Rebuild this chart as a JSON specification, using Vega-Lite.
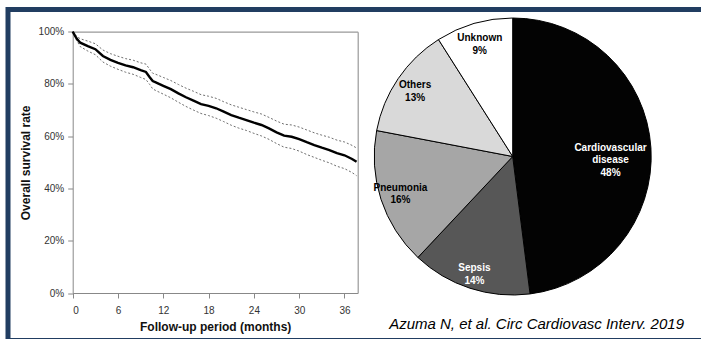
{
  "$schema": "https://vega.github.io/schema/vega-lite/v6.json",
  "width": 697,
  "height": 331,
  "autosize": {"type": "none"},
  "padding": {"left": 8, "top": 9.5, "right": 0, "bottom": 0},
  "background": "white",
  "config": {
    "view": {"stroke": "#213d61", "strokeWidth": 5},
    "font": "Liberation Sans"
  },
  "title": {
    "text": "Azuma N, et al. Circ Cardiovasc Interv. 2019",
    "orient": "bottom",
    "anchor": "end",
    "frame": "group",
    "offset": -23.5,
    "dx": -21,
    "font": "Liberation Sans",
    "fontStyle": "italic",
    "fontWeight": "normal",
    "fontSize": 15,
    "color": "#000000"
  },
  "datasets": {
    "surv": [
      {"month": 0, "s": 100, "lo": 100, "hi": 100},
      {"month": 0.5, "s": 97.5, "lo": 96.8, "hi": 98.3},
      {"month": 1, "s": 95.8, "lo": 94.3, "hi": 97.3},
      {"month": 2, "s": 94.5, "lo": 92.6, "hi": 96.4},
      {"month": 3, "s": 93.3, "lo": 91.2, "hi": 95.4},
      {"month": 4, "s": 90.7, "lo": 88.4, "hi": 93.0},
      {"month": 5, "s": 89.2, "lo": 86.8, "hi": 91.6},
      {"month": 6, "s": 88.1, "lo": 85.6, "hi": 90.6},
      {"month": 7, "s": 87.1, "lo": 84.5, "hi": 89.7},
      {"month": 8, "s": 86.4, "lo": 83.7, "hi": 89.1},
      {"month": 9, "s": 85.3, "lo": 82.5, "hi": 88.1},
      {"month": 9.7, "s": 84.6, "lo": 81.7, "hi": 87.6},
      {"month": 10.2, "s": 82.6, "lo": 79.8, "hi": 85.6},
      {"month": 10.6, "s": 81.1, "lo": 78.1, "hi": 84.1},
      {"month": 11, "s": 80.6, "lo": 77.5, "hi": 83.7},
      {"month": 12, "s": 79.3, "lo": 76.1, "hi": 82.5},
      {"month": 13, "s": 78.0, "lo": 74.7, "hi": 81.3},
      {"month": 14, "s": 76.4, "lo": 73.0, "hi": 79.8},
      {"month": 15, "s": 74.9, "lo": 71.4, "hi": 78.4},
      {"month": 16, "s": 73.6, "lo": 70.0, "hi": 77.2},
      {"month": 17, "s": 72.3, "lo": 68.7, "hi": 75.9},
      {"month": 18, "s": 71.6, "lo": 67.9, "hi": 75.3},
      {"month": 19, "s": 70.7, "lo": 66.9, "hi": 74.5},
      {"month": 20, "s": 69.4, "lo": 65.6, "hi": 73.2},
      {"month": 21, "s": 68.1, "lo": 64.2, "hi": 72.0},
      {"month": 22, "s": 67.1, "lo": 63.1, "hi": 71.1},
      {"month": 23, "s": 66.2, "lo": 62.2, "hi": 70.2},
      {"month": 24, "s": 65.2, "lo": 61.1, "hi": 69.3},
      {"month": 25, "s": 64.3, "lo": 60.1, "hi": 68.5},
      {"month": 26, "s": 63.0, "lo": 58.8, "hi": 67.2},
      {"month": 27, "s": 61.5, "lo": 57.2, "hi": 65.8},
      {"month": 28, "s": 60.2, "lo": 55.8, "hi": 64.6},
      {"month": 29, "s": 59.8, "lo": 55.3, "hi": 64.3},
      {"month": 30, "s": 58.9, "lo": 54.3, "hi": 63.5},
      {"month": 31, "s": 57.7, "lo": 53.0, "hi": 62.4},
      {"month": 32, "s": 56.6, "lo": 51.9, "hi": 61.3},
      {"month": 33, "s": 55.6, "lo": 50.8, "hi": 60.4},
      {"month": 34, "s": 54.7, "lo": 49.8, "hi": 59.6},
      {"month": 35, "s": 53.5, "lo": 48.5, "hi": 58.5},
      {"month": 36, "s": 52.7, "lo": 47.6, "hi": 57.8},
      {"month": 37, "s": 51.3, "lo": 46.1, "hi": 56.5},
      {"month": 37.6, "s": 50.2, "lo": 44.9, "hi": 55.5}
    ],
    "causes": [
      {"cause": "Cardiovascular disease", "pct": 48, "rank": 1},
      {"cause": "Sepsis", "pct": 14, "rank": 2},
      {"cause": "Pneumonia", "pct": 16, "rank": 3},
      {"cause": "Others", "pct": 13, "rank": 4},
      {"cause": "Unknown", "pct": 9, "rank": 5}
    ]
  },
  "resolve": {"axis": {"x": "independent", "y": "independent"}},
  "layer": [
    {
      "data": {"name": "surv"},
      "mark": {"type": "line", "color": "#6e6e6e", "strokeWidth": 1, "strokeDash": [2, 2]},
      "encoding": {
        "x": {
          "field": "month", "type": "quantitative",
          "scale": {"domain": [0, 37.75], "range": [64.7, 349.7], "nice": false, "zero": false},
          "axis": {
            "orient": "bottom", "offset": -47.5, "values": [0, 6, 12, 18, 24, 30, 36],
            "grid": false, "tickSize": 5, "labelPadding": 7,
            "domainColor": "#888888", "tickColor": "#888888", "labelColor": "#333333",
            "labelFont": "Liberation Sans", "labelFontSize": 10,
            "title": "Follow-up period (months)", "titleFont": "Liberation Sans",
            "titleFontSize": 12, "titleFontWeight": "bold", "titleColor": "#111111", "titlePadding": 6
          }
        },
        "y": {
          "field": "hi", "type": "quantitative",
          "scale": {"domain": [0, 100], "range": [283.5, 22.2], "nice": false, "zero": false},
          "axis": {
            "orient": "left", "offset": -64.7, "values": [0, 20, 40, 60, 80, 100],
            "labelExpr": "datum.value + '%'",
            "grid": false, "tickSize": 5, "labelPadding": 4,
            "domainColor": "#888888", "tickColor": "#888888", "labelColor": "#333333",
            "labelFont": "Liberation Sans", "labelFontSize": 10,
            "title": "Overall survival rate", "titleFont": "Liberation Sans",
            "titleFontSize": 12, "titleFontWeight": "bold", "titleColor": "#111111", "titlePadding": 6
          }
        }
      }
    },
    {
      "data": {"name": "surv"},
      "mark": {"type": "line", "color": "#6e6e6e", "strokeWidth": 1, "strokeDash": [2, 2]},
      "encoding": {
        "x": {
          "field": "month", "type": "quantitative",
          "scale": {"domain": [0, 37.75], "range": [64.7, 349.7], "nice": false, "zero": false},
          "axis": {"orient": "top", "offset": -22.2, "labels": false, "ticks": false, "grid": false, "title": null, "domainColor": "#999999", "domainWidth": 1.2}
        },
        "y": {
          "field": "lo", "type": "quantitative",
          "scale": {"domain": [0, 100], "range": [283.5, 22.2], "nice": false, "zero": false},
          "axis": {"orient": "right", "offset": -347.3, "labels": false, "ticks": false, "grid": false, "title": null, "domainColor": "#999999", "domainWidth": 1.2}
        }
      }
    },
    {
      "data": {"name": "surv"},
      "mark": {"type": "line", "color": "#000000", "strokeWidth": 2.4},
      "encoding": {
        "x": {"field": "month", "type": "quantitative", "axis": null,
          "scale": {"domain": [0, 37.75], "range": [64.7, 349.7], "nice": false, "zero": false}},
        "y": {"field": "s", "type": "quantitative", "axis": null,
          "scale": {"domain": [0, 100], "range": [283.5, 22.2], "nice": false, "zero": false}}
      }
    },
    {
      "data": {"name": "causes"},
      "mark": {"type": "arc", "x": 504.7, "y": 147, "outerRadius": 138.5, "stroke": "#000000", "strokeWidth": 1},
      "encoding": {
        "theta": {"field": "pct", "type": "quantitative", "stack": true},
        "order": {"field": "rank", "type": "quantitative"},
        "color": {
          "field": "cause", "type": "nominal", "legend": null,
          "scale": {
            "domain": ["Cardiovascular disease", "Sepsis", "Pneumonia", "Others", "Unknown"],
            "range": ["#030303", "#575757", "#a6a6a6", "#d9d9d9", "#ffffff"]
          }
        }
      }
    },
    {
      "data": {"name": "causes"},
      "transform": [
        {"calculate": "datum.rank >= 3 ? datum.cause + '\\n' + datum.pct + '%' : ''", "as": "label"}
      ],
      "mark": {"type": "text", "x": 504.7, "y": 147, "radius": 118, "dy": -5, "font": "Liberation Sans", "fontWeight": "bold", "fontSize": 10, "lineBreak": "\n", "lineHeight": 12.5, "align": "center", "baseline": "middle", "color": "#000000"},
      "encoding": {
        "theta": {"field": "pct", "type": "quantitative", "stack": true},
        "order": {"field": "rank", "type": "quantitative"},
        "text": {"field": "label"}
      }
    },
    {
      "data": {"name": "causes"},
      "transform": [
        {"calculate": "datum.cause == 'Sepsis' ? datum.cause + '\\n' + datum.pct + '%' : ''", "as": "label"}
      ],
      "mark": {"type": "text", "x": 504.7, "y": 147, "radius": 124, "dy": -6, "font": "Liberation Sans", "fontWeight": "bold", "fontSize": 10, "lineBreak": "\n", "lineHeight": 12.5, "align": "center", "baseline": "middle", "color": "#ffffff"},
      "encoding": {
        "theta": {"field": "pct", "type": "quantitative", "stack": true},
        "order": {"field": "rank", "type": "quantitative"},
        "text": {"field": "label"}
      }
    },
    {
      "data": {"name": "causes"},
      "transform": [
        {"calculate": "datum.cause == 'Cardiovascular disease' ? replace(datum.cause, ' ', '\\n') + '\\n' + datum.pct + '%' : ''", "as": "label"}
      ],
      "mark": {"type": "text", "x": 504.7, "y": 147, "radius": 98, "dy": -2.5, "font": "Liberation Sans", "fontWeight": "bold", "fontSize": 10, "lineBreak": "\n", "lineHeight": 12.5, "align": "center", "baseline": "middle", "color": "#ffffff"},
      "encoding": {
        "theta": {"field": "pct", "type": "quantitative", "stack": true},
        "order": {"field": "rank", "type": "quantitative"},
        "text": {"field": "label"}
      }
    }
  ]
}
